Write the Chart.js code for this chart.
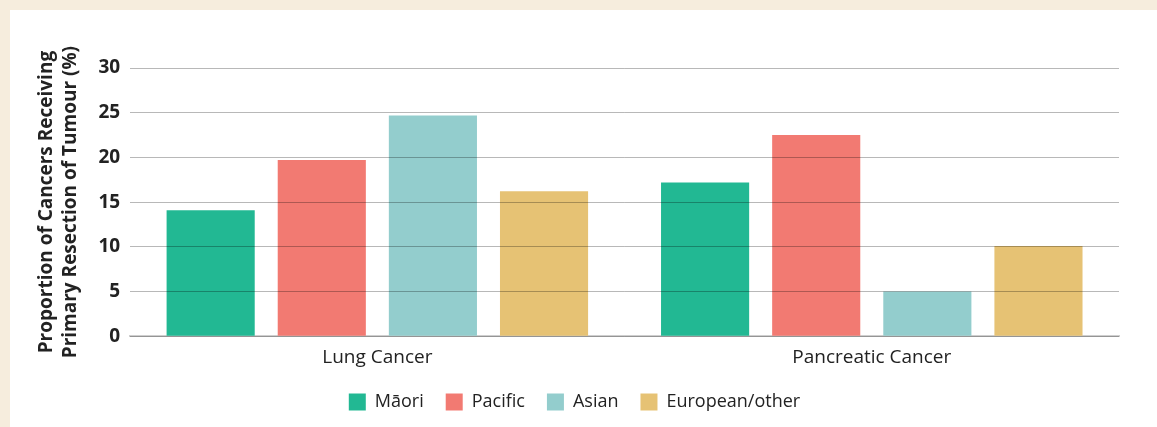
<!DOCTYPE html>
<html lang="en">
<head>
    <meta charset="UTF-8">
    <script src="https://cdn.jsdelivr.net/npm/chart.js"></script>
    <title>Primary resection</title>
    <style>
        body{
            margin: 0;
            padding: 0;
            background-color: #f6eddd;
        }
        #panel {
            position: absolute;
            left: 10px;
            top: 10px;
            width: 1147px;
            height: 417px;
            background: #fff;
        }
    </style>
</head>
<body>
    <div id="panel"><canvas id="resectionChart"></canvas></div>

    <script>
        const categories = ['Lung Cancer', 'Pancreatic Cancer'];
        const groups = ['Māori', 'Pacific', 'Asian', 'European/other'];
        const maori = [14.1, 17.2];
        const pacific = [19.7, 22.5];
        const asian = [24.7, 5.0];
        const european = [16.2, 10.1];
        const colours = ['#22b893', '#f27a72', '#93cdcd', '#e6c274'];

        const fontFamily = "'Open Sans', 'Noto Sans', sans-serif";
        const values = [maori, pacific, asian, european];

        new Chart(document.getElementById('resectionChart'), {
            type: 'bar',
            data: {
                labels: categories,
                datasets: groups.map((g, i) => ({
                    label: g,
                    data: values[i],
                    backgroundColor: colours[i],
                    categoryPercentage: 0.899,
                    barPercentage: 0.793
                }))
            },
            options: {
                responsive: true,
                maintainAspectRatio: false,
                animation: false,
                layout: { padding: { left: 20, right: 38, top: 58, bottom: 6 } },
                plugins: {
                    tooltip: { enabled: false },
                    legend: {
                        position: 'bottom',
                        labels: {
                            boxWidth: 17,
                            boxHeight: 17,
                            padding: 22,
                            color: '#222',
                            font: { family: fontFamily, size: 18 }
                        }
                    }
                },
                scales: {
                    x: {
                        grid: { display: false },
                        border: { display: true, color: '#cfcfcf', width: 2 },
                        ticks: {
                            color: '#222',
                            padding: 2,
                            font: { family: fontFamily, size: 19 }
                        }
                    },
                    y: {
                        min: 0,
                        max: 30,
                        ticks: {
                            stepSize: 5,
                            color: '#222',
                            padding: 10,
                            font: { family: fontFamily, size: 19, weight: 'bold' }
                        },
                        grid: {
                            z: 1,
                            color: 'rgba(0,0,0,0.28)',
                            lineWidth: 1,
                            drawTicks: false
                        },
                        border: { display: false },
                        title: {
                            display: true,
                            text: ['Proportion of Cancers Receiving', 'Primary Resection of Tumour (%)'],
                            color: '#222',
                            padding: { bottom: 5 },
                            font: { family: fontFamily, size: 19, weight: 'bold', lineHeight: 1.3 }
                        }
                    }
                }
            }
        });
    </script>
</body>
</html>
